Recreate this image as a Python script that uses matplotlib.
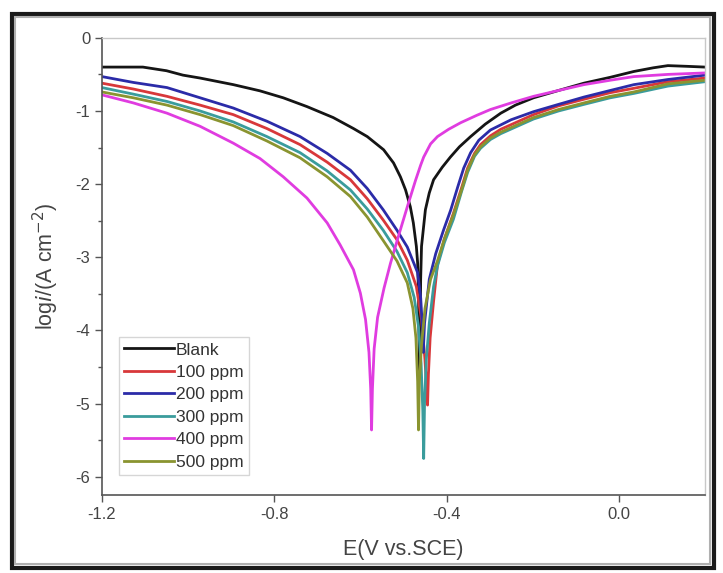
import matplotlib
matplotlib.use("Agg")
import matplotlib.pyplot as plt
from matplotlib.patches import Rectangle
from matplotlib.ticker import MultipleLocator

plt.rcParams["font.family"] = ["Liberation Sans", "DejaVu Sans"]

# potential (V vs SCE) and log i (A cm^-2)
blank_e = [-1.2, -1.105, -1.050, -1.012, -0.972, -0.895, -0.833, -0.779, -0.724, -0.663,
           -0.616, -0.584, -0.546, -0.523, -0.507, -0.495, -0.484, -0.477, -0.470, -0.467,
           -0.465, -0.464, -0.463, -0.461, -0.460, -0.458, -0.449, -0.440, -0.430, -0.410,
           -0.391, -0.370, -0.344, -0.310, -0.274, -0.240, -0.198, -0.140, -0.081, -0.020,
           0.035, 0.080, 0.114, 0.160, 0.2]
blank_i = [-0.40, -0.40, -0.45, -0.51, -0.55, -0.64, -0.725, -0.82, -0.94, -1.09,
           -1.24, -1.35, -1.53, -1.71, -1.90, -2.08, -2.31, -2.53, -2.85, -3.08,
           -3.50, -4.00, -4.60, -3.90, -3.30, -2.85, -2.35, -2.12, -1.94, -1.77,
           -1.63, -1.49, -1.35, -1.18, -1.03, -0.92, -0.82, -0.72, -0.62, -0.54,
           -0.46, -0.41, -0.38, -0.39, -0.40]

ppm100_e = [-1.2, -1.127, -1.049, -0.972, -0.895, -0.817, -0.740, -0.677, -0.623, -0.584,
            -0.547, -0.515, -0.491, -0.470, -0.458, -0.450, -0.446, -0.444, -0.442, -0.438,
            -0.430, -0.421, -0.405, -0.384, -0.365, -0.351, -0.335, -0.321, -0.298, -0.274,
            -0.198, -0.140, -0.081, -0.020, 0.035, 0.114, 0.2]
ppm100_i = [-0.62, -0.70, -0.80, -0.92, -1.05, -1.24, -1.46, -1.70, -1.94, -2.20,
            -2.49, -2.76, -3.04, -3.40, -3.85, -4.40, -4.80, -5.02, -4.60, -4.10,
            -3.60, -3.10, -2.75, -2.40, -2.05, -1.78, -1.58, -1.46, -1.34, -1.25,
            -1.05, -0.93, -0.84, -0.75, -0.69, -0.60, -0.55]

ppm200_e = [-1.2, -1.127, -1.049, -0.972, -0.895, -0.817, -0.740, -0.677, -0.623, -0.584,
            -0.547, -0.515, -0.491, -0.467, -0.460, -0.456, -0.454, -0.451, -0.440, -0.425,
            -0.407, -0.390, -0.374, -0.360, -0.344, -0.325, -0.298, -0.250, -0.198, -0.140,
            -0.081, -0.020, 0.035, 0.114, 0.2]
ppm200_i = [-0.53, -0.61, -0.68, -0.82, -0.96, -1.14, -1.35, -1.58, -1.81, -2.06,
            -2.35, -2.63, -2.86, -3.21, -3.55, -3.95, -4.30, -3.90, -3.30, -2.95,
            -2.63, -2.35, -2.04, -1.78, -1.57, -1.40, -1.26, -1.12, -1.01, -0.91,
            -0.81, -0.72, -0.64, -0.57, -0.51]

ppm300_e = [-1.2, -1.127, -1.049, -0.972, -0.895, -0.817, -0.740, -0.677, -0.623, -0.584,
            -0.547, -0.515, -0.491, -0.475, -0.465, -0.459, -0.455, -0.453, -0.451, -0.447,
            -0.440, -0.430, -0.421, -0.405, -0.384, -0.365, -0.351, -0.335, -0.321, -0.298,
            -0.274, -0.198, -0.140, -0.081, -0.020, 0.035, 0.114, 0.2]
ppm300_i = [-0.68, -0.77, -0.87, -1.00, -1.15, -1.35, -1.57, -1.82, -2.08, -2.34,
            -2.63, -2.92, -3.21, -3.55, -3.95, -4.45, -5.10, -5.75, -5.00, -4.40,
            -3.90, -3.40, -3.12, -2.80, -2.48, -2.10, -1.84, -1.62, -1.51, -1.39,
            -1.31, -1.11, -1.00, -0.91, -0.82, -0.76, -0.66, -0.60]

ppm400_e = [-1.2, -1.127, -1.049, -0.972, -0.895, -0.833, -0.779, -0.724, -0.677, -0.647,
            -0.616, -0.600, -0.588, -0.580, -0.576, -0.574, -0.572, -0.568, -0.560, -0.545,
            -0.530, -0.510, -0.491, -0.472, -0.460, -0.453, -0.437, -0.421, -0.395, -0.367,
            -0.330, -0.298, -0.250, -0.198, -0.140, -0.081, -0.020, 0.035, 0.114, 0.2]
ppm400_i = [-0.78, -0.89, -1.03, -1.21, -1.44, -1.65, -1.90, -2.19, -2.53, -2.83,
            -3.17, -3.49, -3.85, -4.30, -4.80, -5.36, -4.80, -4.25, -3.82, -3.42,
            -3.08, -2.68, -2.31, -1.95, -1.74, -1.63, -1.45, -1.35, -1.25, -1.16,
            -1.06, -0.98, -0.89, -0.80, -0.72, -0.64, -0.58, -0.53, -0.50, -0.48]

ppm500_e = [-1.2, -1.127, -1.049, -0.972, -0.895, -0.817, -0.740, -0.677, -0.623, -0.584,
            -0.547, -0.515, -0.491, -0.478, -0.471, -0.467, -0.465, -0.463, -0.458, -0.450,
            -0.437, -0.421, -0.405, -0.384, -0.365, -0.351, -0.335, -0.321, -0.298, -0.274,
            -0.198, -0.140, -0.081, -0.020, 0.035, 0.114, 0.2]
ppm500_i = [-0.74, -0.82, -0.92, -1.05, -1.20, -1.41, -1.64, -1.90, -2.17, -2.45,
            -2.77, -3.05, -3.35, -3.70, -4.10, -4.70, -5.36, -4.70, -4.20, -3.70,
            -3.30, -3.05, -2.75, -2.42, -2.08, -1.81, -1.60, -1.49, -1.37, -1.29,
            -1.09, -0.98, -0.89, -0.80, -0.74, -0.63, -0.58]

labels = ["Blank", "100 ppm", "200 ppm", "300 ppm", "400 ppm", "500 ppm"]
colors = ["#151515", "#d8383a", "#2b2ba8", "#3a9c9c", "#e03ce0", "#8a9430"]
curves = [(blank_e, blank_i), (ppm100_e, ppm100_i), (ppm200_e, ppm200_i),
          (ppm300_e, ppm300_i), (ppm400_e, ppm400_i), (ppm500_e, ppm500_i)]

fig = plt.figure(figsize=(7.23, 5.73), dpi=100)
ax = fig.add_axes([0.141, 0.136, 0.834, 0.798])

for (e, i), c, lab in zip(curves, colors, labels):
    ax.plot(e, i, color=c, lw=2.0, label=lab, solid_joinstyle="round")

ax.set_xlim(-1.2, 0.2)
ax.set_ylim(-6.25, 0)
ax.set_xticks([-1.2, -0.8, -0.4, 0.0])
ax.set_xticklabels(["-1.2", "-0.8", "-0.4", "0.0"])
ax.set_yticks([0, -1, -2, -3, -4, -5, -6])
ax.set_yticklabels(["0", "-1", "-2", "-3", "-4", "-5", "-6"])
ax.yaxis.set_minor_locator(MultipleLocator(0.5))
ax.tick_params(direction="out", length=5, width=1, colors="#555555",
               labelsize=12, labelcolor="#444444")
ax.tick_params(which="minor", direction="out", length=3, width=1, colors="#555555")
ax.tick_params(top=False, right=False)

for side in ["left", "bottom"]:
    ax.spines[side].set_color("#555555")
    ax.spines[side].set_linewidth(1.2)
for side in ["top", "right"]:
    ax.spines[side].set_color("#c8c8c8")
    ax.spines[side].set_linewidth(1.0)

ax.set_xlabel("E(V vs.SCE)", fontsize=15.5, color="#444444", labelpad=12)
ax.set_ylabel(r"log$\it{i}$/(A cm$^{-2}$)", fontsize=15.5, color="#444444", labelpad=10)

leg = ax.legend(loc="lower left", bbox_to_anchor=(0.028, 0.044), borderaxespad=0,
                fontsize=12.5, handlelength=2.9, handletextpad=0.1, labelspacing=0.42,
                borderpad=0.3, frameon=True, fancybox=False)
leg.get_frame().set_edgecolor("#cccccc")
leg.get_frame().set_linewidth(1.0)
for t in leg.get_texts():
    t.set_color("#333333")

# outer frame around the figure
fig.patches.append(Rectangle((0.016, 0.009), 0.971, 0.967, transform=fig.transFigure,
                             fill=False, edgecolor="#1a1a1a", linewidth=3.0))
fig.patches.append(Rectangle((0.021, 0.015), 0.961, 0.955, transform=fig.transFigure,
                             fill=False, edgecolor="#b0b0b0", linewidth=1.5))

fig.savefig("out.png", dpi=100)
